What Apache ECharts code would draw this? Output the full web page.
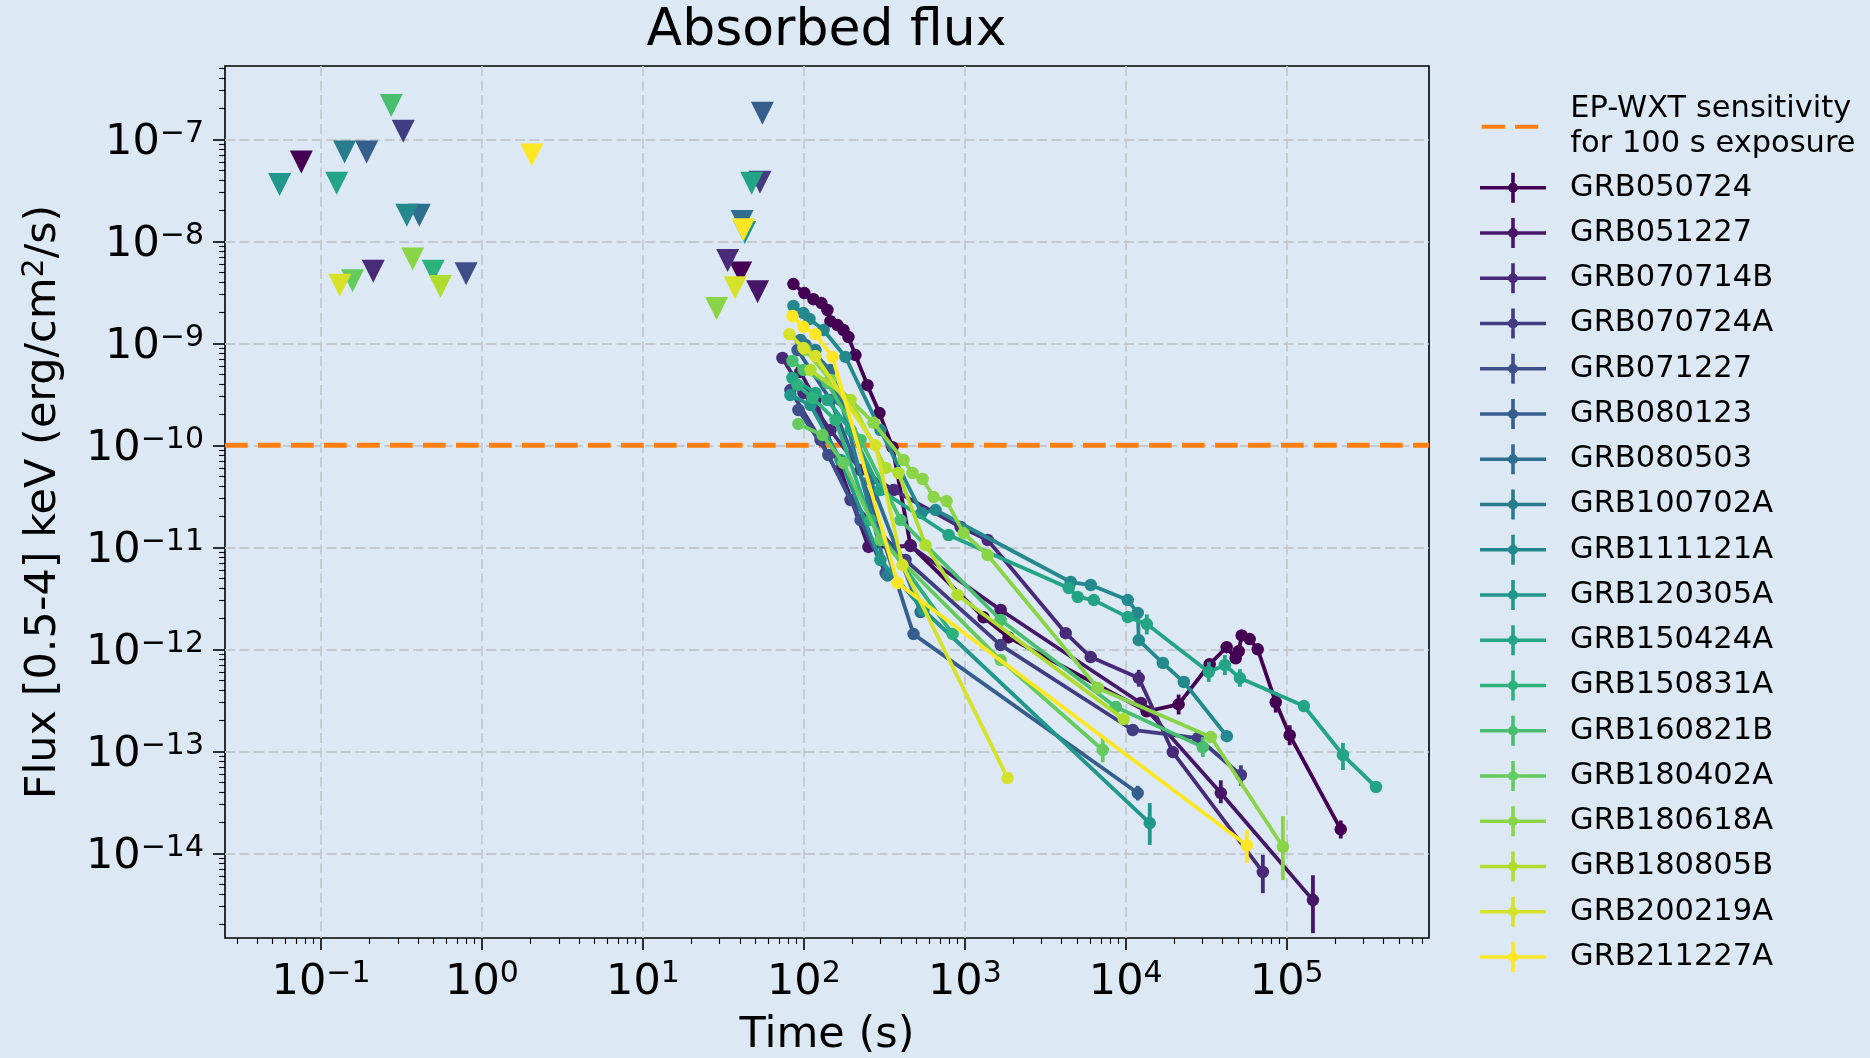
<!DOCTYPE html>
<html>
<head>
<meta charset="utf-8">
<script src="https://cdn.jsdelivr.net/npm/echarts@6/dist/echarts.min.js"></script>
<style>
  html, body { margin: 0; padding: 0; background: #dce9f5; }
  #chart { width: 1870px; height: 1058px; }
</style>
</head>
<body>
<div id="chart"></div>
<script>
// ---------------- data ----------------
const grbNames = ['GRB050724', 'GRB051227', 'GRB070714B', 'GRB070724A', 'GRB071227', 'GRB080123',
  'GRB080503', 'GRB100702A', 'GRB111121A', 'GRB120305A', 'GRB150424A', 'GRB150831A',
  'GRB160821B', 'GRB180402A', 'GRB180618A', 'GRB180805B', 'GRB200219A', 'GRB211227A'];

// light curves: [time (s), absorbed flux 0.5-4 keV (erg/cm2/s)]
const lc050724 = [[86.1, 3.81e-9], [100.7, 3.11e-9], [114.6, 2.71e-9], [128.5, 2.48e-9], [140, 2.12e-9],
  [146.2, 1.65e-9], [161.6, 1.51e-9], [176.1, 1.35e-9], [189.2, 1.15e-9], [209.1, 7.66e-10], [248.3, 3.89e-10],
  [294.8, 2.07e-10], [355.2, 9.6e-11], [459.5, 1.05e-11], [1307, 2.06e-12], [1869, 1.31e-12], [13480, 2.47e-13],
  [21310, 2.89e-13], [33210, 7.14e-13], [42380, 1.05e-12], [48190, 8.18e-13], [50310, 9.58e-13], [52530, 1.37e-12],
  [58900, 1.26e-12], [66060, 1.0e-12], [85460, 3.03e-13], [104400, 1.44e-13], [216700, 1.72e-14]];
const lc051227 = [[95.2, 5.24e-10], [118, 2.78e-10], [169, 5.73e-11], [252, 1.01e-11], [460, 1.03e-11],
  [1670, 2.43e-12], [12400, 2.98e-13], [38970, 3.9e-14], [145600, 3.48e-15]];
const lc070714B = [[73.6, 7.18e-10], [99.4, 3.26e-10], [146.4, 1.41e-10], [225, 5.73e-11], [361, 3.65e-11],
  [942, 1.58e-11], [1386, 1.18e-11], [4236, 1.44e-12], [6057, 8.4e-13], [12050, 5.23e-13], [19600, 9.84e-14],
  [71100, 6.56e-15]];
const lc070724A = [[82.5, 3.48e-10], [127, 1.13e-10], [195, 2.91e-11], [428, 7.51e-12], [1670, 1.1e-12],
  [11050, 1.62e-13], [28050, 1.35e-13], [51900, 5.86e-14]];
const lc071227 = [[92.5, 2.22e-10], [142, 8.04e-11], [225, 1.85e-11], [322, 5.6e-12]];
const lc080123 = [[91.3, 8.59e-10], [146.4, 2.78e-10], [259, 2.91e-11], [480, 1.41e-12], [11870, 3.9e-14]];
const lc080503 = [[102.3, 9.62e-10], [146.4, 5.47e-10], [259, 4.57e-11], [531, 2.32e-12]];
const lc100702A = [[95.2, 1.08e-9], [118, 8.59e-10], [169, 2.78e-10], [331, 5.3e-12]];
const lc111121A = [[86.1, 2.32e-9], [99.4, 1.98e-9], [108.3, 1.73e-9], [132.4, 1.35e-9], [181.4, 7.35e-10],
  [299, 1.41e-10], [539, 2.17e-11], [658, 2.32e-11], [4550, 4.57e-12], [6057, 4.27e-12], [10290, 3.04e-12],
  [11870, 2.27e-12], [12050, 1.23e-12], [17000, 7.34e-13], [22950, 4.78e-13], [42460, 1.41e-13]];
const lc120305A = [[82.5, 3.11e-10], [110, 2.48e-10], [169, 7.18e-11], [299, 7.51e-12], [554, 2.43e-12],
  [14100, 1.98e-14]];
const lc150424A = [[84.9, 4.57e-10], [118, 3.26e-10], [140.2, 2.78e-10], [195, 1.41e-10], [299, 3.65e-11],
  [793, 1.32e-11], [4420, 3.99e-12], [5030, 3.26e-12], [6324, 3.04e-12], [10290, 2.07e-12], [13510, 1.77e-12],
  [32810, 5.99e-13], [41270, 7.02e-13], [51170, 5.23e-13], [127900, 2.78e-13], [223700, 9.2e-14], [358900, 4.47e-14]];
const lc150831A = [[91.3, 3.9e-10], [113.1, 2.91e-10], [157.2, 1.77e-10], [259, 1.85e-11], [840, 1.41e-12]];
const lc160821B = [[84.9, 6.71e-10], [99.4, 5.47e-10], [140.2, 4.08e-10], [225, 1.13e-10], [399, 1.85e-11],
  [1670, 1.94e-12], [8670, 2.72e-13], [30130, 1.1e-13]];
const lc180402A = [[92.5, 1.62e-10], [130.5, 1.26e-10], [176.3, 6.71e-11], [299, 1.18e-11], [1670, 7.85e-13],
  [7194, 1.03e-13]];
const lc180618A = [[102.3, 8.59e-10], [146.4, 4.37e-10], [271, 1.66e-10], [416, 7.18e-11], [473.5, 5.35e-11],
  [546.5, 4.68e-11], [640, 3.11e-11], [770, 2.84e-11], [983, 1.38e-11], [1386, 8.4e-12], [6698, 4.18e-13],
  [33780, 1.38e-13], [94700, 1.16e-14]];
const lc180805B = [[110, 5.47e-10], [195, 2.78e-10], [322, 6.0e-11], [387, 5.35e-11], [570, 1.05e-11],
  [902, 3.41e-12], [9720, 2.07e-13]];
const lc200219A = [[81.3, 1.23e-9], [99.4, 9.0e-10], [118, 7.5e-10], [279, 1.0e-10], [410, 6.7e-12], [1845, 5.47e-14]];
const lc211227A = [[84.9, 1.85e-9], [99.4, 1.45e-9], [118, 1.23e-9], [150.6, 7.35e-10], [382, 4.47e-12],
  [56560, 1.2e-14]];

const lightCurves = [lc050724, lc051227, lc070714B, lc070724A, lc071227, lc080123, lc080503, lc100702A,
  lc111121A, lc120305A, lc150424A, lc150831A, lc160821B, lc180402A, lc180618A, lc180805B, lc200219A, lc211227A];

// flux error bars: [GRB, time (s), lower flux, upper flux]
const errorBars = [
  ['GRB050724', 21310, 2.3e-13, 3.6e-13], ['GRB050724', 85460, 2.4e-13, 3.8e-13],
  ['GRB050724', 104400, 1.15e-13, 1.8e-13], ['GRB050724', 216700, 1.4e-14, 2.1e-14],
  ['GRB051227', 38970, 3.1e-14, 5.2e-14], ['GRB051227', 145600, 1.65e-15, 6.1e-15],
  ['GRB070714B', 12050, 4.3e-13, 6.3e-13], ['GRB070714B', 71100, 4.07e-15, 9.66e-15],
  ['GRB070724A', 51900, 4.6e-14, 7.3e-14],
  ['GRB080123', 11870, 3.3e-14, 4.6e-14],
  ['GRB120305A', 14100, 1.21e-14, 3.11e-14],
  ['GRB150424A', 13510, 1.4e-12, 2.2e-12], ['GRB150424A', 32810, 4.8e-13, 7.5e-13],
  ['GRB150424A', 41270, 5.6e-13, 8.8e-13], ['GRB150424A', 51170, 4.3e-13, 6.4e-13],
  ['GRB150424A', 223700, 6.56e-14, 1.21e-13],
  ['GRB160821B', 30130, 8.8e-14, 1.38e-13],
  ['GRB180402A', 7194, 7.8e-14, 1.36e-13],
  ['GRB180618A', 94700, 5.47e-15, 2.32e-14],
  ['GRB211227A', 56560, 8.1e-15, 1.7e-14]
];

// upper limits: [GRB, time (s), flux limit]
const upperLimits = [
  ['GRB050724', 0.0754, 6.0e-8], ['GRB050724', 40.5, 4.9e-9],
  ['GRB051227', 51.6, 3.2e-9],
  ['GRB070714B', 0.211, 5.1e-9], ['GRB070714B', 33.6, 6.5e-9],
  ['GRB070724A', 0.324, 1.2e-7], ['GRB070724A', 53.4, 3.8e-8],
  ['GRB071227', 0.797, 4.8e-9],
  ['GRB080123', 0.192, 7.5e-8], ['GRB080123', 55.2, 1.8e-7],
  ['GRB080503', 0.408, 1.8e-8], ['GRB080503', 41.3, 1.56e-8],
  ['GRB100702A', 0.140, 7.5e-8],
  ['GRB111121A', 0.341, 1.8e-8],
  ['GRB120305A', 0.0553, 3.6e-8], ['GRB120305A', 42.9, 1.22e-8],
  ['GRB150424A', 0.125, 3.7e-8], ['GRB150424A', 47.4, 3.7e-8],
  ['GRB150831A', 0.497, 5.1e-9],
  ['GRB160821B', 0.273, 2.14e-7],
  ['GRB180402A', 0.157, 4.1e-9],
  ['GRB180618A', 0.371, 6.7e-9], ['GRB180618A', 28.7, 2.2e-9],
  ['GRB180805B', 0.552, 3.6e-9],
  ['GRB200219A', 0.1306, 3.7e-9], ['GRB200219A', 37.4, 3.5e-9],
  ['GRB211227A', 2.04, 7.0e-8], ['GRB211227A', 42.1, 1.3e-8]
];

const sensitivityName = 'EP-WXT sensitivity\nfor 100 s exposure';
const sensitivityFlux = 1e-10;

const xMajorTicks = [1e-1, 1e0, 1e1, 1e2, 1e3, 1e4, 1e5];
const yMajorTicks = [1e-14, 1e-13, 1e-12, 1e-11, 1e-10, 1e-9, 1e-8, 1e-7];

// ---------------- layout / style ----------------
const X_MIN = 0.0253, X_MAX = 7.66e5;
const Y_MIN = 1.48e-15, Y_MAX = 5.23e-7;
const FONT = 'DejaVu Sans';

function minorTicks(lo, hi) {
  const out = [];
  for (let d = Math.floor(Math.log10(lo)); d <= Math.ceil(Math.log10(hi)); d++) {
    for (let k = 2; k <= 9; k++) {
      const v = k * Math.pow(10, d);
      if (v > lo && v < hi) out.push(v);
    }
  }
  return out;
}

// viridis colour map (anchor stops, linearly interpolated)
const viridisStops = [
  [0, '#440154'], [0.111, '#482878'], [0.125, '#472d7b'], [0.222, '#3e4a89'], [0.25, '#3b528b'],
  [0.333, '#31688e'], [0.375, '#2c728e'], [0.444, '#26828e'], [0.5, '#21908c'], [0.556, '#1f9e89'],
  [0.625, '#27ad81'], [0.667, '#35b779'], [0.75, '#5dc863'], [0.778, '#6dcd59'], [0.875, '#aadc32'],
  [0.889, '#b4de2c'], [1, '#fde725']
];
function hexToRgb(h) { return [1, 3, 5].map(i => parseInt(h.substr(i, 2), 16)); }
function viridis(t) {
  for (let i = 1; i < viridisStops.length; i++) {
    const [t1, c1] = viridisStops[i];
    if (t <= t1 + 1e-9) {
      const [t0, c0] = viridisStops[i - 1];
      const f = (t - t0) / (t1 - t0);
      const a = hexToRgb(c0), b = hexToRgb(c1);
      const c = a.map((v, k) => Math.round(v + (b[k] - v) * f));
      return 'rgb(' + c.join(',') + ')';
    }
  }
  return viridisStops[viridisStops.length - 1][1];
}
const colors = grbNames.map((_, i) => viridis(i / (grbNames.length - 1)));

function powLabel(v) {
  const e = Math.round(Math.log10(v));
  return '10{sup|' + (e < 0 ? '\u2212' + (-e) : String(e)) + '}';
}
const supRich = { sup: { fontSize: 30, lineHeight: 24, verticalAlign: 'top', fontFamily: FONT, color: '#000' } };

const gridLine = { show: true, lineStyle: { color: '#c3c9cf', width: 1.8, type: [10, 4.5] } };

// legend handle: horizontal line, marker and vertical error bar
const grbIcon = 'path://M0,13.2H66V16.8H0Z M31.2,0H34.8V30H31.2Z M28,15A5,5 0 1,1 38,15A5,5 0 1,1 28,15Z';
const dashIcon = 'path://M0,0H23.3V4H0Z M33.3,0H56.6V4H33.3Z';

// ---------------- series ----------------
const series = [];
series.push({
  type: 'line', name: sensitivityName, z: 1,
  data: [[X_MIN, sensitivityFlux], [X_MAX, sensitivityFlux]],
  symbol: 'none', silent: true,
  itemStyle: { color: '#ff7f0e' },
  lineStyle: { color: '#ff7f0e', width: 5, type: [22.7, 10.3] }
});

grbNames.forEach((name, i) => {
  const color = colors[i];
  const z = 2 + i * 0.05;
  series.push({
    type: 'line', name, z,
    data: lightCurves[i],
    symbol: 'circle', symbolSize: 12.5, showSymbol: true,
    itemStyle: { color, borderWidth: 0, opacity: 1 },
    lineStyle: { color, width: 3.8 },
    emphasis: { disabled: true }
  });
  const bars = errorBars.filter(r => r[0] === name).map(r => [r[1], r[2], r[3]]);
  if (bars.length) {
    series.push({
      type: 'custom', name, z, silent: true,
      data: bars,
      encode: { x: 0, y: [1, 2] },
      renderItem: (params, api) => {
        const a = api.coord([api.value(0), api.value(1)]);
        const b = api.coord([api.value(0), api.value(2)]);
        return {
          type: 'line',
          shape: { x1: a[0], y1: a[1], x2: b[0], y2: b[1] },
          style: { stroke: color, lineWidth: 3.8 }
        };
      }
    });
  }
  const ul = upperLimits.filter(r => r[0] === name).map(r => [r[1], r[2]]);
  if (ul.length) {
    series.push({
      type: 'scatter', name, z,
      data: ul,
      symbol: 'triangle', symbolRotate: 180, symbolSize: 23,
      itemStyle: { color, borderWidth: 0, opacity: 1 },
      emphasis: { disabled: true }
    });
  }
});

// ---------------- chart ----------------
const chart = echarts.init(document.getElementById('chart'), null, { renderer: 'canvas' });
chart.setOption({
  animation: false,
  backgroundColor: '#dce9f5',
  textStyle: { fontFamily: FONT, color: '#000' },
  title: {
    text: 'Absorbed flux', left: 826.5, top: 1, textAlign: 'center', padding: 0,
    textStyle: { fontFamily: FONT, fontSize: 52, lineHeight: 60, fontWeight: 'normal', color: '#000' }
  },
  grid: {
    left: 225, right: 441, top: 66, bottom: 120,
    outerBoundsMode: 'none', containLabel: false,
    show: true, borderColor: '#000', borderWidth: 1.6, backgroundColor: 'transparent'
  },
  legend: [
    {
      data: [{ name: sensitivityName, icon: dashIcon }],
      orient: 'vertical', left: 1481.7, top: 92, padding: 0,
      itemWidth: 56.6, itemHeight: 4, selectedMode: false,
      itemStyle: { borderWidth: 0 },
      textStyle: { fontFamily: FONT, fontSize: 30.5, lineHeight: 34.7, color: '#000', padding: [0, 0, 0, 27] }
    },
    {
      data: grbNames.map(n => ({ name: n, icon: grbIcon })),
      orient: 'vertical', left: 1480, top: 170.7, padding: 0,
      itemWidth: 66, itemHeight: 30, itemGap: 11.25, selectedMode: false,
      itemStyle: { borderWidth: 0 },
      textStyle: { fontFamily: FONT, fontSize: 30.5, lineHeight: 34, color: '#000', padding: [0, 0, 0, 19] }
    }
  ],
  xAxis: [
    {
      type: 'log', logBase: 10, min: X_MIN, max: X_MAX, position: 'bottom',
      name: 'Time (s)', nameLocation: 'middle', nameGap: 72,
      nameTextStyle: { fontFamily: FONT, fontSize: 43, lineHeight: 48, color: '#000' },
      axisLine: { show: false },
      axisTick: { show: true, customValues: xMajorTicks, length: 12, lineStyle: { color: '#000', width: 1.6 } },
      axisLabel: {
        customValues: xMajorTicks, margin: 21, formatter: powLabel,
        fontFamily: FONT, fontSize: 43, lineHeight: 48, color: '#000', rich: supRich
      },
      splitLine: gridLine
    },
    {
      type: 'log', logBase: 10, min: X_MIN, max: X_MAX, position: 'bottom',
      axisLine: { show: false }, axisLabel: { show: false }, splitLine: { show: false },
      axisTick: { show: true, customValues: minorTicks(X_MIN, X_MAX), length: 6, lineStyle: { color: '#000', width: 1.1 } }
    }
  ],
  yAxis: [
    {
      type: 'log', logBase: 10, min: Y_MIN, max: Y_MAX, position: 'left',
      name: 'Flux [0.5-4] keV (erg/cm{sup|2}/s)', nameLocation: 'middle', nameGap: 157, nameRotate: 90,
      nameTextStyle: { fontFamily: FONT, fontSize: 43, lineHeight: 48, color: '#000', rich: supRich },
      axisLine: { show: false },
      axisTick: { show: true, customValues: yMajorTicks, length: 12, lineStyle: { color: '#000', width: 1.6 } },
      axisLabel: {
        customValues: yMajorTicks, margin: 21, formatter: powLabel, padding: [7, 0, 0, 0],
        fontFamily: FONT, fontSize: 43, lineHeight: 48, color: '#000', rich: supRich
      },
      splitLine: gridLine
    },
    {
      type: 'log', logBase: 10, min: Y_MIN, max: Y_MAX, position: 'left',
      axisLine: { show: false }, axisLabel: { show: false }, splitLine: { show: false },
      axisTick: { show: true, customValues: minorTicks(Y_MIN, Y_MAX), length: 6, lineStyle: { color: '#000', width: 1.1 } }
    }
  ],
  series: series
});
</script>
</body>
</html>
